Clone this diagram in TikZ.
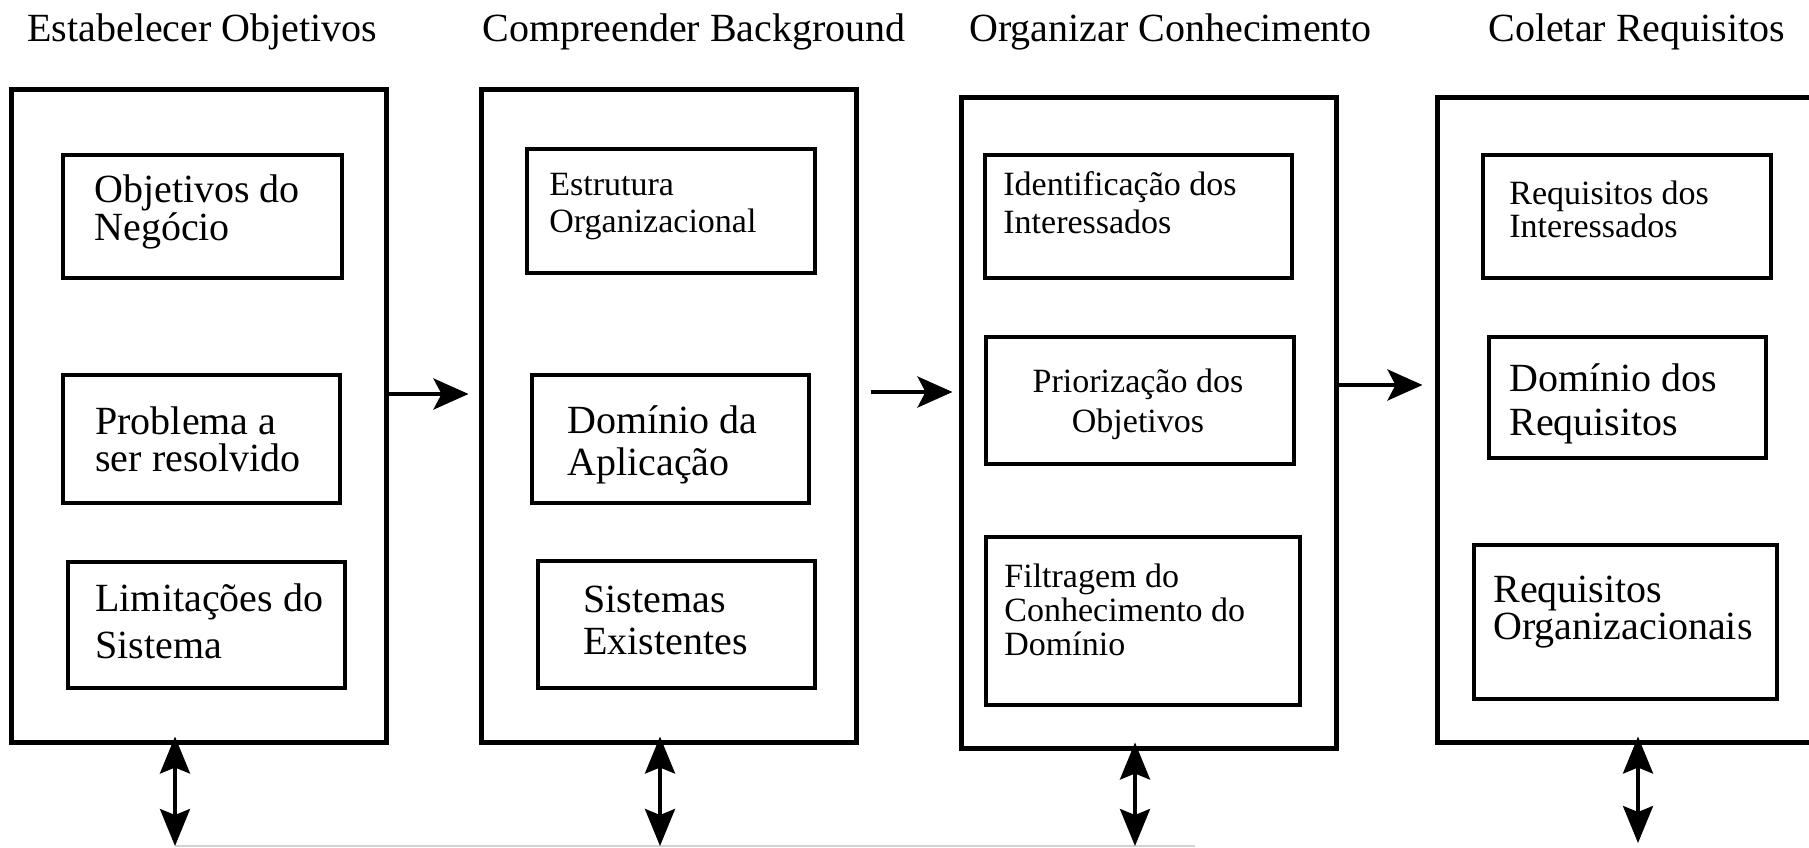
\documentclass[tikz,border=0pt]{standalone}
\usepackage{fontspec}
\setmainfont{Liberation Serif}
\usetikzlibrary{arrows.meta}
\tikzset{
  obox/.style={draw, line width=2.5pt, inner sep=0pt, fill=none},
  ibox/.style={draw, line width=2.3pt, inner sep=0pt},
  ttl/.style={inner sep=0pt, anchor=base west, font=\fontsize{20pt}{24pt}\selectfont},
  txt/.style={inner sep=0pt, anchor=north west, align=left},
  ctxt/.style={inner sep=0pt, anchor=north, align=center},
  arr/.style={line width=2pt, -{Stealth[length=17.5pt,width=15.5pt,inset=4pt]}},
  darr/.style={line width=1.8pt, {Stealth[length=18.5pt,width=15pt,inset=3pt]}-{Stealth[length=18.5pt,width=15pt,inset=3pt]}},
}
\newcommand{\bst}{\rule{0pt}{0.8em}}
\begin{document}
\begin{tikzpicture}[x=0.5pt,y=-0.5pt]
\useasboundingbox (0,0) rectangle (1809,847);
\clip (0,0) rectangle (1809,847);

% titles
\node[ttl] (h1) at (27,41) {Estabelecer Objetivos};
\node[ttl] (h2) at (482,41) {Compreender Background};
\node[ttl] (h3) at (969,41) {Organizar Conhecimento};
\node[ttl] (h4) at (1488,41) {Coletar Requisitos};

% outer boxes
\node[obox, minimum width=187.5pt, minimum height=326.5pt] (o1) at (199,415.5) {};
\node[obox, minimum width=187.5pt, minimum height=326.5pt] (o2) at (668.5,415.5) {};
\node[obox, minimum width=187.5pt, minimum height=325.5pt] (o3) at (1148.5,422.5) {};
\node[obox, minimum width=196.5pt, minimum height=322.5pt] (o4) at (1633.5,419.5) {};

% inner boxes
\node[ibox, minimum width=139.5pt, minimum height=61.5pt] (n11) at (202.5,216.5) {};
\node[ibox, minimum width=138.5pt, minimum height=64pt] (n12) at (201.5,439) {};
\node[ibox, minimum width=138.5pt, minimum height=63pt] (n13) at (206.5,625) {};
\node[ibox, minimum width=144pt, minimum height=62pt] (n21) at (671,211) {};
\node[ibox, minimum width=138.5pt, minimum height=64pt] (n22) at (670.5,439) {};
\node[ibox, minimum width=138.5pt, minimum height=63.5pt] (n23) at (676.5,624.5) {};
\node[ibox, minimum width=153.5pt, minimum height=61.5pt] (n31) at (1138.5,216.5) {};
\node[ibox, minimum width=154pt, minimum height=63.5pt] (n32) at (1140,400.5) {};
\node[ibox, minimum width=157pt, minimum height=84pt] (n33) at (1143,621) {};
\node[ibox, minimum width=144pt, minimum height=61.5pt] (n41) at (1627,216.5) {};
\node[ibox, minimum width=138.5pt, minimum height=60.5pt] (n42) at (1627.5,397.5) {};
\node[ibox, minimum width=151.5pt, minimum height=77pt] (n43) at (1625.5,622) {};

% texts
\node[txt, font=\fontsize{20pt}{18pt}\selectfont] (t11) at (94,170) {\bst Objetivos do\\Negócio};
\node[txt, font=\fontsize{20pt}{18.5pt}\selectfont] (t12) at (95,402) {\bst Problema a\\ser resolvido};
\node[txt, font=\fontsize{20pt}{23.5pt}\selectfont] (t13) at (95,579) {\bst Limitações do\\Sistema};
\node[txt, font=\fontsize{17pt}{18.5pt}\selectfont] (t21) at (549,167.8) {\bst Estrutura\\Organizacional};
\node[txt, font=\fontsize{20pt}{21pt}\selectfont] (t22) at (567,401) {\bst Domínio da\\Aplicação};
\node[txt, font=\fontsize{20pt}{21pt}\selectfont] (t23) at (583,580) {\bst Sistemas\\Existentes};
\node[txt, font=\fontsize{17pt}{19pt}\selectfont] (t31) at (1003,167.8) {\bst Identificação dos\\Interessados};
\node[ctxt, font=\fontsize{17pt}{20pt}\selectfont] (t32) at (1138,364.8) {\bst Priorização dos\\Objetivos};
\node[txt, font=\fontsize{17pt}{17pt}\selectfont] (t33) at (1004,559.8) {\bst Filtragem do\\Conhecimento do\\Domínio};
\node[txt, font=\fontsize{17pt}{16.5pt}\selectfont] (t41) at (1509,176.8) {\bst Requisitos dos\\Interessados};
\node[txt, font=\fontsize{20pt}{22pt}\selectfont] (t42) at (1509,359) {\bst Domínio dos\\Requisitos};
\node[txt, font=\fontsize{20pt}{18.5pt}\selectfont] (t43) at (1493,570) {\bst Requisitos\\Organizacionais};

% horizontal arrows
\draw[arr, shorten >=5pt] ([yshift=10.75pt]o1.east) -- ([yshift=10.75pt]o2.west);
\draw[arr, shorten <=6pt, shorten >=3pt] ([yshift=11.75pt]o2.east) -- ([yshift=15.25pt]o3.west);
\draw[arr, shorten >=6pt] ([yshift=18.75pt]o3.east) -- ([yshift=17.25pt]o4.west);

% vertical double arrows
\coordinate (v1) at (175,846);
\coordinate (v2) at (660,846);
\coordinate (v3) at (1135,846);
\coordinate (v4) at (1638,843);
\draw[gray!35, line width=1pt] (v1) -- ([xshift=30pt]v3);
\draw[darr, shorten <=-4pt] (v1 |- o1.south) -- (v1);
\draw[darr, shorten <=-4pt] (v2 |- o2.south) -- (v2);
\draw[darr, shorten <=-4pt] (v3 |- o3.south) -- (v3);
\draw[darr, shorten <=-4pt] (v4 |- o4.south) -- (v4);
\end{tikzpicture}
\end{document}
